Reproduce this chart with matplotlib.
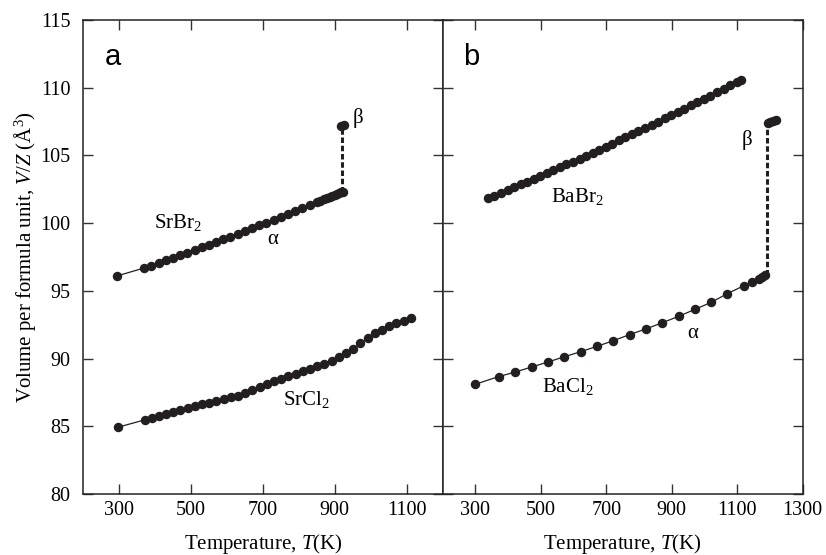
"""Thermal expansion of alkaline-earth dihalides: V/Z versus temperature."""

import matplotlib

matplotlib.use("Agg")

import matplotlib.pyplot as plt

INK = "#231f20"

# panel a: SrBr2 (alpha + beta) and SrCl2
srbr2_alpha_t = [294, 370, 390, 410, 430, 450, 470, 490, 510, 530, 550, 570, 590, 610,
                 630, 650, 670, 690, 710, 730, 750, 770, 790, 810, 830, 850,
                 860, 870, 878, 886, 893, 900, 906, 912, 917, 922]
srbr2_alpha_v = [96.10, 96.69, 96.87, 97.06, 97.25, 97.44, 97.63, 97.82, 98.01, 98.21,
                 98.40, 98.60, 98.80, 99.00, 99.20, 99.41, 99.62, 99.83, 100.04, 100.25,
                 100.46, 100.68, 100.90, 101.12, 101.34, 101.56,
                 101.66, 101.77, 101.86, 101.95, 102.03, 102.10, 102.17, 102.23, 102.28, 102.33]
srbr2_beta_t = [918, 926]
srbr2_beta_v = [107.18, 107.22]
srbr2_jump_t = 919

srcl2_t = [297, 371, 391, 411, 431, 451, 471, 491, 511, 531, 551, 571, 591, 611, 631, 651,
           671, 691, 711, 731, 751, 771, 791, 811, 831, 851, 871, 891, 911, 931, 951,
           971, 991, 1011, 1031, 1051, 1071, 1091, 1111]
srcl2_v = [84.93, 85.47, 85.64, 85.79, 85.93, 86.08, 86.20, 86.35, 86.47, 86.62, 86.75,
           86.87, 86.99, 87.14, 87.27, 87.43, 87.68, 87.90, 88.12, 88.32, 88.50, 88.68,
           88.86, 89.06, 89.23, 89.43, 89.63, 89.85, 90.09, 90.39, 90.71, 91.13, 91.50,
           91.87, 92.11, 92.41, 92.61, 92.80, 93.02]

# panel b: BaBr2 and BaCl2 (alpha + beta)
babr2_t = [338, 358, 378, 398, 418, 438, 458, 478, 498, 518, 538, 558, 578, 598, 618,
           638, 658, 678, 698, 718, 738, 758, 778, 798, 818, 838, 858, 878, 898, 918,
           938, 958, 978, 998, 1018, 1038, 1058, 1078, 1098, 1111]
babr2_v = [101.84, 102.04, 102.24, 102.45, 102.65, 102.86, 103.06, 103.27, 103.48, 103.69,
           103.91, 104.12, 104.34, 104.55, 104.77, 104.99, 105.21, 105.43, 105.66, 105.88,
           106.11, 106.34, 106.56, 106.80, 107.03, 107.26, 107.49, 107.73, 107.97, 108.21,
           108.45, 108.69, 108.93, 109.18, 109.42, 109.67, 109.92, 110.17, 110.42, 110.58]

bacl2_alpha_t = [299, 371, 422, 472, 522, 572, 622, 672, 721, 771, 821, 871, 921, 971,
                 1021, 1070, 1120, 1144, 1167, 1177, 1185]
bacl2_alpha_v = [88.10, 88.67, 89.01, 89.38, 89.75, 90.14, 90.51, 90.91, 91.32, 91.77,
                 92.19, 92.65, 93.12, 93.64, 94.16, 94.80, 95.38, 95.62, 95.88, 96.05, 96.17]
bacl2_beta_t = [1193, 1201, 1209, 1217]
bacl2_beta_v = [107.40, 107.49, 107.57, 107.64]
bacl2_jump_t = 1190

y_ticks = [80, 85, 90, 95, 100, 105, 110, 115]
x_ticks_a = [300, 500, 700, 900, 1100]
x_ticks_b = [300, 500, 700, 900, 1100, 1300]

plt.rcParams["font.family"] = ["Liberation Serif", "DejaVu Serif"]
plt.rcParams["mathtext.fontset"] = "custom"
plt.rcParams["mathtext.rm"] = "Liberation Serif"
plt.rcParams["mathtext.it"] = "Liberation Serif:italic"

TICK_SIZE = 14.5
LABEL_SIZE = 15
NOTE_SIZE = 15


def style_axes(ax, xlim, xticks, show_ylabels):
    ax.set_xlim(*xlim)
    ax.set_ylim(80, 115)
    ax.set_xticks(xticks)
    ax.set_yticks(y_ticks)
    ax.tick_params(direction="in", length=7, width=1.0, color="#333333",
                   top=True, right=True, labelsize=TICK_SIZE, pad=5)
    ax.tick_params(axis="y", pad=9, labelleft=show_ylabels)
    for spine in ax.spines.values():
        spine.set_linewidth(1.1)
        spine.set_color("#222222")
    ax.set_xlabel(r"Temperature, $T$(K)", fontsize=LABEL_SIZE, labelpad=9)


def plot_series(ax, t, v):
    ax.plot(t, v, "-o", color=INK, lw=0.9, ms=5.8, mec=INK, mfc=INK)


def plot_jump(ax, t_jump, v_low, v_high):
    ax.plot([t_jump, t_jump], [v_low, v_high], color=INK, lw=2.2,
            dashes=(1.8, 0.9))


fig = plt.figure(figsize=(8.26, 5.55), dpi=100)
ax_a = fig.add_axes([0.1005, 0.1099, 0.4355, 0.854])
ax_b = fig.add_axes([0.536, 0.1099, 0.4358, 0.854])

# panel a
plot_jump(ax_a, srbr2_jump_t, srbr2_alpha_v[-1], srbr2_beta_v[0])
plot_series(ax_a, srbr2_alpha_t, srbr2_alpha_v)
plot_series(ax_a, srbr2_beta_t, srbr2_beta_v)
plot_series(ax_a, srcl2_t, srcl2_v)
style_axes(ax_a, (200, 1200), x_ticks_a, True)
ax_a.set_ylabel(r"Volume per formula unit, $V/Z$ (Å$^3$)", fontsize=LABEL_SIZE, labelpad=2)
ax_a.text(0.06, 0.905, "a", transform=ax_a.transAxes, fontsize=21,
          family="Liberation Sans", va="baseline")
ax_a.text(463, 99.65, r"SrBr$_2$", fontsize=NOTE_SIZE, ha="center", va="baseline")
ax_a.text(727, 98.76, r"α", fontsize=NOTE_SIZE, ha="center", va="center")
ax_a.text(964, 107.75, r"β", fontsize=NOTE_SIZE, ha="center", va="center")
ax_a.text(820, 86.57, r"SrCl$_2$", fontsize=NOTE_SIZE, ha="center", va="baseline")

# panel b
plot_jump(ax_b, bacl2_jump_t, bacl2_alpha_v[-1], bacl2_beta_v[0])
plot_series(ax_b, babr2_t, babr2_v)
plot_series(ax_b, bacl2_alpha_t, bacl2_alpha_v)
plot_series(ax_b, bacl2_beta_t, bacl2_beta_v)
style_axes(ax_b, (200, 1300), x_ticks_b, False)
ax_b.text(0.056, 0.905, "b", transform=ax_b.transAxes, fontsize=21,
          family="Liberation Sans", va="baseline")
ax_b.text(610, 101.59, r"BaBr$_2$", fontsize=NOTE_SIZE, ha="center", va="baseline")
ax_b.text(1131, 106.14, r"β", fontsize=NOTE_SIZE, ha="center", va="center")
ax_b.text(964, 91.87, r"α", fontsize=NOTE_SIZE, ha="center", va="center")
ax_b.text(581, 87.56, r"BaCl$_2$", fontsize=NOTE_SIZE, ha="center", va="baseline")

fig.savefig("out.png", dpi=100)
plt.close(fig)
